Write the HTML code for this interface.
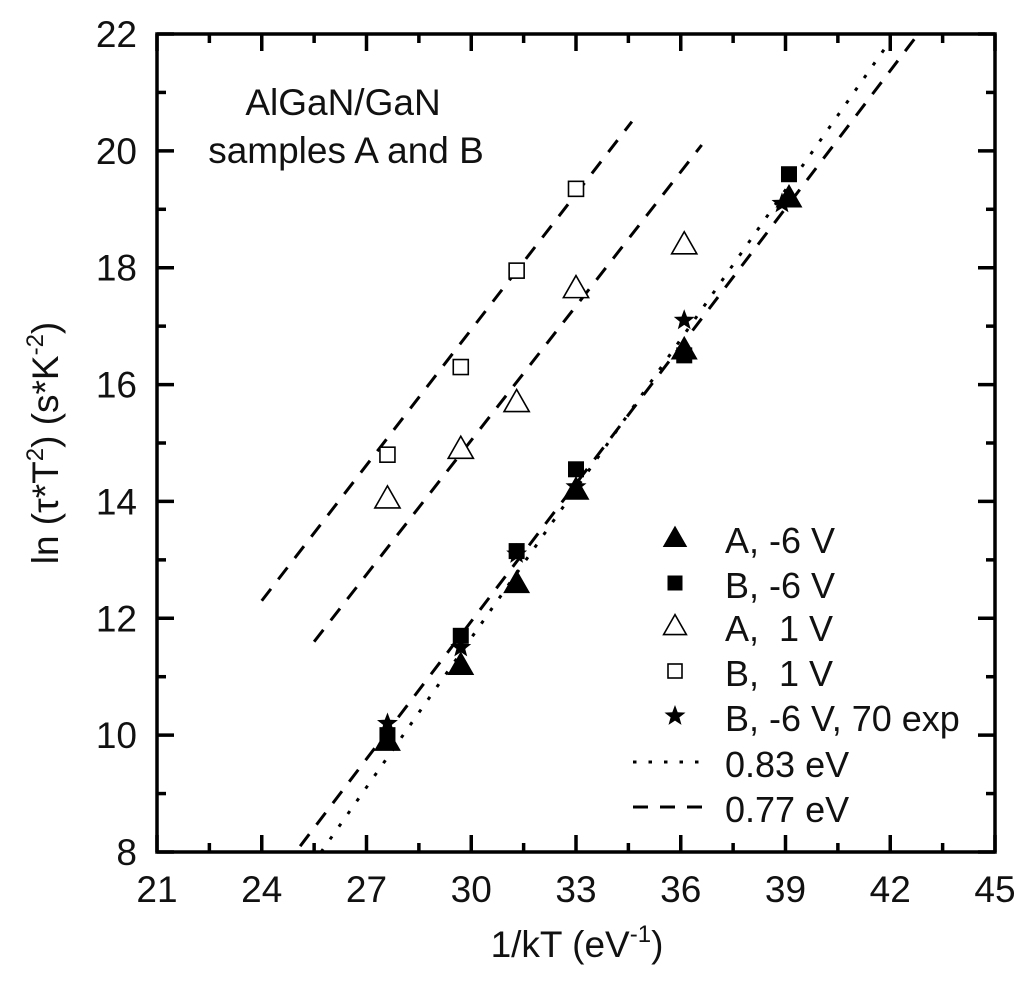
<!DOCTYPE html>
<html><head><meta charset="utf-8">
<style>
html,body{margin:0;padding:0;background:#fff;}
svg{display:block;font-family:"Liberation Sans",Arial,sans-serif;}
svg text{font-size:37px;white-space:pre;fill:#111;}
svg text.lg{font-size:36px;}
svg tspan.sup{font-size:24px;}
</style></head>
<body>
<svg id="chart" width="1024" height="998" viewBox="0 0 1024 998" xmlns="http://www.w3.org/2000/svg">
<g id="axes"></g>
<g id="lines"></g>
<g id="marks"></g>
<g id="legend"></g>
<text x="343" y="115" text-anchor="middle">AlGaN/GaN</text>
<text x="346" y="163" text-anchor="middle">samples A and B</text>
<text x="577" y="957" text-anchor="middle">1/kT (eV<tspan class="sup" dy="-15">-1</tspan><tspan dy="15">)</tspan></text>
<text transform="translate(58,443) rotate(-90)" text-anchor="middle">ln (τ*T<tspan class="sup" dy="-15">2</tspan><tspan dy="15">) (s*K</tspan><tspan class="sup" dy="-15">-2</tspan><tspan dy="15">)</tspan></text>
</svg>
<script>
const xTicks=[21,24,27,30,33,36,39,42,45];
const yTicks=[8,10,12,14,16,18,20,22];
const xA6=[27.6,29.7,31.3,33.0,36.1,39.1];
const yA6=[9.9,11.2,12.6,14.2,16.6,19.2];
const xB6=[27.6,29.7,31.3,33.0,36.1,39.1];
const yB6=[10.0,11.7,13.15,14.55,16.5,19.6];
const xA1=[27.6,29.7,31.3,33.0,36.1];
const yA1=[14.05,14.9,15.7,17.65,18.4];
const xB1=[27.6,29.7,31.3,33.0];
const yB1=[14.8,16.3,17.95,19.35];
const xStar=[27.6,29.7,31.3,33.0,36.1,38.9];
const yStar=[10.2,11.5,13.1,14.25,17.1,19.1];
const dashB1=[[24.0,12.3],[34.6,20.5]];
const dashA1=[[25.5,11.6],[36.6,20.1]];
const dashNeg=[[25.1,8.1],[42.8,22.0]];
const dotNeg=[[25.7,8.0],[41.9,21.8]];

const NS="http://www.w3.org/2000/svg";
const X0=157,X1=995,Y0=852,Y1=34;
const sx=v=>X0+(v-21)/(45-21)*(X1-X0);
const sy=v=>Y0-(v-8)/(22-8)*(Y0-Y1);
function mk(tag,attrs,parent){const e=document.createElementNS(NS,tag);for(const k in attrs)e.setAttribute(k,attrs[k]);parent.appendChild(e);return e;}
const axes=document.getElementById('axes');
const fr=mk('rect',{x:X0,y:Y1,width:X1-X0,height:Y0-Y1,fill:'none',stroke:'#000','stroke-width':3.5},axes);


const TW=3.5;
for(let i=0;i<xTicks.length;i++){
  const v=xTicks[i],x=sx(v);
  const t1=mk('line',{x1:x,x2:x,y1:Y0,y2:Y0-17,stroke:'#000','stroke-width':TW},axes);
  
  
  mk('line',{x1:x,x2:x,y1:Y1,y2:Y1+17,stroke:'#000','stroke-width':TW},axes);
  if(i<xTicks.length-1){const m=sx(v+1.5);
    mk('line',{x1:m,x2:m,y1:Y0,y2:Y0-9,stroke:'#000','stroke-width':TW},axes);
    mk('line',{x1:m,x2:m,y1:Y1,y2:Y1+9,stroke:'#000','stroke-width':TW},axes);}
  const lb=mk('text',{x:x,y:Y0+50,'text-anchor':'middle'},axes);
  lb.textContent=v;
  
  
}
for(let i=0;i<yTicks.length;i++){
  const v=yTicks[i],y=sy(v);
  const t1=mk('line',{x1:X0,x2:X0+17,y1:y,y2:y,stroke:'#000','stroke-width':TW},axes);
  
  
  mk('line',{x1:X1,x2:X1-17,y1:y,y2:y,stroke:'#000','stroke-width':TW},axes);
  if(i<yTicks.length-1){const m=sy(v+1);
    mk('line',{x1:X0,x2:X0+9,y1:m,y2:m,stroke:'#000','stroke-width':TW},axes);
    mk('line',{x1:X1,x2:X1-9,y1:m,y2:m,stroke:'#000','stroke-width':TW},axes);}
  const lb=mk('text',{x:X0-20,y:y+13,'text-anchor':'end'},axes);
  lb.textContent=v;
  
  
}
const lines=document.getElementById('lines');
function fit(p,dash,name){
  const l=mk('line',{x1:sx(p[0][0]),y1:sy(p[0][1]),x2:sx(p[1][0]),y2:sy(p[1][1]),stroke:'#000','stroke-width':3,'stroke-dasharray':dash},lines);
  
  
}
fit(dashB1,'15 12','fit-line-b-1v');
fit(dashA1,'15 12','fit-line-a-1v');
fit(dashNeg,'15 12','fit-line-077ev');
fit(dotNeg,'3.5 12','fit-line-083ev');

const marks=document.getElementById('marks');
function tri(cx,cy,s,fill,parent){return mk('polygon',{points:`${cx},${cy-s*0.6} ${cx-s*0.6},${cy+s*0.45} ${cx+s*0.6},${cy+s*0.45}`,fill:fill?'#000':'#fff',stroke:'#000','stroke-width':fill?1:1.6},parent);}
function sq(cx,cy,s,fill,parent){return mk('rect',{x:cx-s/2,y:cy-s/2,width:s,height:s,fill:fill?'#000':'#fff',stroke:'#000','stroke-width':fill?1:1.6},parent);}
function star(cx,cy,r,parent){let p=[];for(let k=0;k<10;k++){const a=-Math.PI/2+k*Math.PI/5,rr=k%2?r*0.42:r;p.push((cx+rr*Math.cos(a)).toFixed(1)+','+(cy+rr*Math.sin(a)).toFixed(1));}return mk('polygon',{points:p.join(' '),fill:'#000'},parent);}
function series(xs,ys,fn,name){for(let i=0;i<xs.length;i++){const e=fn(sx(xs[i]),sy(ys[i]));}}
series(xB1,yB1,(x,y)=>sq(x,y,15,false,marks),'point-b-1v');
series(xA1,yA1,(x,y)=>tri(x,y,21,false,marks),'point-a-1v');
series(xB6,yB6,(x,y)=>sq(x,y,15,true,marks),'point-b-neg6v');
series(xA6,yA6,(x,y)=>tri(x,y,21,true,marks),'point-a-neg6v');
series(xStar,yStar,(x,y)=>star(x,y,11,marks),'point-b-neg6v-70exp');

const lg=document.getElementById('legend');
const labels=['A, -6 V','B, -6 V','A,  1 V','B,  1 V','B, -6 V, 70 exp','0.83 eV','0.77 eV'];
const rowsY=[553,598,641,686,731,777,822];
for(let i=0;i<labels.length;i++){
  const y=rowsY[i]-15,x=675;
  let e;
  if(i==0)e=tri(x,y,19,true,lg);
  else if(i==1)e=sq(x,y,14,true,lg);
  else if(i==2)e=tri(x,y,19,false,lg);
  else if(i==3)e=sq(x,y,14,false,lg);
  else if(i==4)e=star(x,y,11,lg);
  else e=mk('line',{x1:633,x2:707,y1:y,y2:y,stroke:'#000','stroke-width':3,'stroke-dasharray':i==5?'3.5 12':'15 12'},lg);
  
  
  const t=mk('text',{x:725,y:rowsY[i],'class':'lg'},lg);
  t.textContent=labels[i];
  
  
}
</script>
</body></html>
